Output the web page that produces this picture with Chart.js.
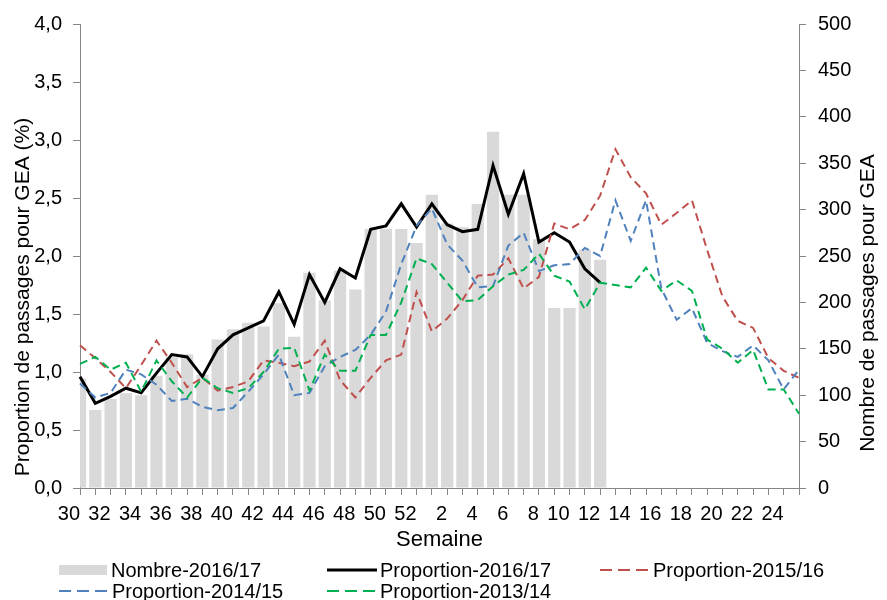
<!DOCTYPE html>
<html>
<head>
<meta charset="utf-8">
<script src="https://cdn.jsdelivr.net/npm/chart.js@4/dist/chart.umd.min.js"></script>
<style>
html,body{margin:0;padding:0;background:#fff;}
#wrap{position:relative;width:887px;height:600px;overflow:hidden;}
#c{position:absolute;left:0;top:0;}
#legend{position:absolute;left:0;top:0;width:887px;height:600px;pointer-events:none;font-family:"Liberation Sans",Arial,sans-serif;font-size:20px;color:#000;}
.item{position:absolute;height:24px;line-height:24px;white-space:nowrap;}
.sample{position:absolute;}
</style>
</head>
<body>
<div id="wrap">
<canvas id="c" width="887" height="600"></canvas>
<div id="legend"></div>
</div>
<script>
// ---- data ----
const weeks = [30,31,32,33,34,35,36,37,38,39,40,41,42,43,44,45,46,47,48,49,50,51,52,
               1,2,3,4,5,6,7,8,9,10,11,12,13,14,15,16,17,18,19,20,21,22,23,24,25];

const nombre1617 = [118,84,96,102,100,121,141,144,122,160,171,178,174,199,163,232,202,234,214,279,279,279,264,
                    316,285,281,306,384,316,316,268,194,194,257,246,
                    null,null,null,null,null,null,null,null,null,null,null,null,null];

const prop1617 = [0.96,0.73,0.79,0.86,0.82,0.99,1.15,1.13,0.96,1.20,1.32,1.38,1.44,1.69,1.41,1.84,1.60,1.89,1.81,2.23,2.26,2.45,2.25,
                  2.45,2.27,2.21,2.23,2.78,2.36,2.71,2.12,2.20,2.12,1.89,1.77,
                  null,null,null,null,null,null,null,null,null,null,null,null,null];

const prop1516 = [1.23,1.12,1.00,0.86,1.06,1.27,1.08,0.87,0.95,0.84,0.87,0.92,1.10,1.08,1.05,1.09,1.27,0.93,0.78,0.95,1.10,1.15,1.69,
                  1.35,1.46,1.62,1.83,1.84,1.98,1.72,1.82,2.28,2.23,2.31,2.52,2.92,2.68,2.54,2.27,2.37,2.48,2.05,1.65,1.44,1.38,1.12,1.01,0.95];

const prop1415 = [0.90,0.78,0.82,1.02,0.98,0.89,0.75,0.77,0.70,0.67,0.69,0.83,0.98,1.15,0.80,0.82,1.05,1.13,1.19,1.32,1.52,1.93,2.26,
                  2.41,2.10,1.96,1.73,1.74,2.09,2.20,1.87,1.92,1.93,2.07,2.00,2.48,2.13,2.48,1.72,1.45,1.55,1.25,1.18,1.13,1.23,1.10,0.85,1.02];

const prop1314 = [1.07,1.13,1.02,1.08,0.83,1.10,0.92,0.78,0.95,0.86,0.82,0.86,1.00,1.20,1.21,0.84,1.15,1.01,1.01,1.32,1.32,1.60,1.98,
                  1.93,1.77,1.61,1.62,1.74,1.84,1.88,2.02,1.83,1.78,1.54,1.77,1.75,1.73,1.90,1.70,1.79,1.70,1.28,1.20,1.08,1.19,0.85,0.85,0.64];

const seriesNames = ['Nombre-2016/17','Proportion-2016/17','Proportion-2015/16','Proportion-2014/15','Proportion-2013/14'];
const leftTitle = 'Proportion de passages pour GEA (%)';
const rightTitle = 'Nombre de passages pour GEA';
const xTitle = 'Semaine';

// ---- styles ----
const FONT = '"Liberation Sans", Arial, sans-serif';
const AXIS = '#868686';
Chart.defaults.font.family = FONT;
Chart.defaults.color = '#000';

const dash = [8,5];

const titlesPlugin = {
  id: 'yTitles',
  afterDraw(chart) {
    const ctx = chart.ctx;
    ctx.save();
    ctx.fillStyle = '#000';
    ctx.font = '21px ' + FONT;
    ctx.textAlign = 'center';
    ctx.textBaseline = 'alphabetic';
    ctx.translate(28.5, 297);
    ctx.rotate(-Math.PI / 2);
    ctx.fillText(leftTitle, 0, 0);
    ctx.restore();
    ctx.save();
    ctx.fillStyle = '#000';
    ctx.font = '21px ' + FONT;
    ctx.textAlign = 'center';
    ctx.textBaseline = 'alphabetic';
    ctx.translate(874, 303);
    ctx.rotate(-Math.PI / 2);
    ctx.fillText(rightTitle, 0, 0);
    ctx.restore();
  }
};

const chart = new Chart(document.getElementById('c').getContext('2d'), {
  type: 'bar',
  data: {
    labels: weeks.map(String),
    datasets: [
      { type: 'bar', label: seriesNames[0], data: nombre1617, yAxisID: 'y1',
        backgroundColor: '#D9D9D9', borderWidth: 0, barPercentage: 0.8, categoryPercentage: 1.0,
        clip: 0, order: 5 },
      { type: 'line', label: seriesNames[1], data: prop1617, yAxisID: 'y',
        borderColor: '#000000', borderWidth: 3, pointRadius: 0, tension: 0, fill: false, order: 4 },
      { type: 'line', label: seriesNames[2], data: prop1516, yAxisID: 'y',
        borderColor: '#C0504D', borderWidth: 2, borderDash: dash, pointRadius: 0, tension: 0, fill: false, order: 3 },
      { type: 'line', label: seriesNames[3], data: prop1415, yAxisID: 'y',
        borderColor: '#4F81BD', borderWidth: 2, borderDash: dash, pointRadius: 0, tension: 0, fill: false, order: 2 },
      { type: 'line', label: seriesNames[4], data: prop1314, yAxisID: 'y',
        borderColor: '#00B050', borderWidth: 2, borderDash: dash, pointRadius: 0, tension: 0, fill: false, order: 1 }
    ]
  },
  options: {
    responsive: false,
    animation: false,
    devicePixelRatio: 1,
    layout: { padding: { top: 19, left: 0, right: 0, bottom: 0 } },
    plugins: { legend: { display: false }, tooltip: { enabled: false } },
    scales: {
      x: {
        offset: false,
        grid: { display: true, offset: false, drawOnChartArea: false, drawTicks: true, tickLength: 7, color: AXIS },
        border: { display: true, color: AXIS, width: 1 },
        ticks: { autoSkip: false, maxRotation: 0, minRotation: 0, align: 'end', padding: 7,
                 font: { size: 20 }, color: '#000',
                 callback: (v, i) => (weeks[i] % 2 === 0 ? String(weeks[i]) : '') },
        title: { display: true, text: xTitle, font: { size: 22 }, color: '#000', padding: { top: 0, bottom: 47 } },
        afterFit: (s) => { s.height = 112; }
      },
      y: {
        position: 'left', min: 0, max: 4,
        grid: { display: true, drawOnChartArea: false, drawTicks: true, tickLength: 7, color: AXIS },
        border: { display: true, color: AXIS, width: 1 },
        ticks: { stepSize: 0.5, padding: 11, font: { size: 20 }, color: '#000',
                 callback: (v) => Number(v).toFixed(1).replace('.', ',') },
        afterFit: (s) => { s.width = 80; }
      },
      y1: {
        position: 'right', min: 0, max: 500,
        grid: { display: true, drawOnChartArea: false, drawTicks: true, tickLength: 7, color: AXIS },
        border: { display: true, color: AXIS, width: 1 },
        ticks: { stepSize: 50, padding: 12, font: { size: 20 }, color: '#000' },
        afterFit: (s) => { s.width = 88; }
      }
    }
  },
  plugins: [titlesPlugin]
});

// ---- HTML legend built from the chart's datasets ----
const slots = [[59,570],[327,570],[600,570],[59,591],[327,591]];
const legend = document.getElementById('legend');
chart.data.datasets.forEach((ds, k) => {
  const [x, yc] = slots[k];
  const svgNS = 'http://www.w3.org/2000/svg';
  const svg = document.createElementNS(svgNS, 'svg');
  svg.setAttribute('width', '50'); svg.setAttribute('height', '14');
  svg.setAttribute('class', 'sample');
  svg.style.left = x + 'px'; svg.style.top = (yc - 7) + 'px';
  if (ds.type === 'bar') {
    const r = document.createElementNS(svgNS, 'rect');
    r.setAttribute('x', '0'); r.setAttribute('y', '2'); r.setAttribute('width', '48'); r.setAttribute('height', '10');
    r.setAttribute('fill', ds.backgroundColor);
    svg.appendChild(r);
  } else {
    const l = document.createElementNS(svgNS, 'line');
    l.setAttribute('x1', '0'); l.setAttribute('x2', ds.borderDash ? '48' : '50');
    l.setAttribute('y1', '7'); l.setAttribute('y2', '7');
    l.setAttribute('stroke', ds.borderColor); l.setAttribute('stroke-width', ds.borderWidth);
    if (ds.borderDash) l.setAttribute('stroke-dasharray', '12,6');
    svg.appendChild(l);
  }
  legend.appendChild(svg);
  const t = document.createElement('div');
  t.className = 'item';
  t.style.left = (x + (ds.type === 'bar' ? 52 : 53)) + 'px';
  t.style.top = (yc - 12) + 'px';
  t.textContent = ds.label;
  legend.appendChild(t);
});
</script>
</body>
</html>
